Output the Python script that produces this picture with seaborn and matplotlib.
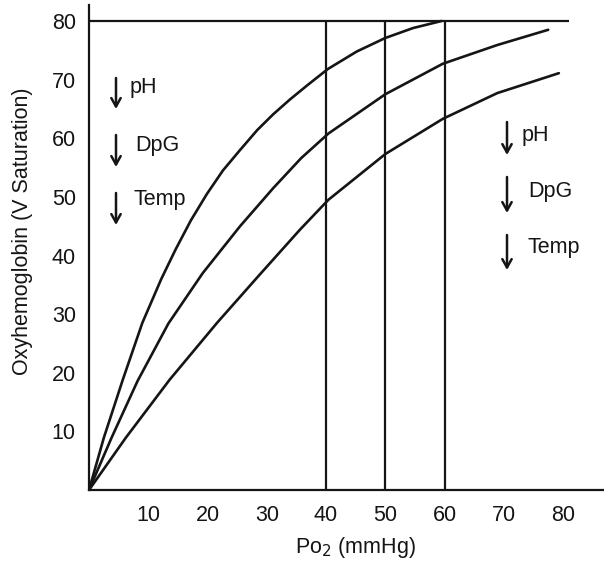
import matplotlib
matplotlib.use("Agg")
import matplotlib.pyplot as plt
import pandas as pd
import seaborn as sns

# Oxyhemoglobin dissociation curves (PO2 in mmHg, saturation)
po2_high_affinity = [0, 2.5, 5.7, 9.0, 12.2, 14.6, 17.2, 19.9, 22.6, 25.5, 28.4,
                     31.1, 33.9, 36.8, 40.3, 45.2, 50.0, 54.7, 59.5]
sat_high_affinity = [0, 8.9, 18.8, 28.5, 36.0, 41.0, 46.0, 50.5, 54.5, 58.0, 61.4,
                     64.1, 66.6, 69.0, 71.8, 74.8, 77.1, 78.8, 80.0]

po2_normal = [0, 3.8, 8.2, 13.4, 19.2, 25.5, 31.1, 35.8, 40.4, 50.0, 59.7, 68.9, 77.5]
sat_normal = [0, 8.9, 18.6, 28.4, 37.0, 45.0, 51.5, 56.6, 60.8, 67.5, 72.7, 75.9, 78.5]

po2_low_affinity = [0, 6.2, 13.6, 21.6, 28.6, 35.6, 40.4, 50.0, 59.7, 68.9, 79.3]
sat_low_affinity = [0, 8.9, 18.8, 28.5, 36.5, 44.4, 49.5, 57.3, 63.3, 67.7, 71.1]

# Reference lines
max_saturation = 80
max_saturation_end = 81
reference_po2 = [40, 50, 60]

x_ticks = [10, 20, 30, 40, 50, 60, 70, 80]
y_ticks = [10, 20, 30, 40, 50, 60, 70, 80]
factor_labels = ["pH", "DpG", "Temp"]

curves = pd.concat([
    pd.DataFrame({"po2": po2_high_affinity, "sat": sat_high_affinity, "curve": "high"}),
    pd.DataFrame({"po2": po2_normal, "sat": sat_normal, "curve": "normal"}),
    pd.DataFrame({"po2": po2_low_affinity, "sat": sat_low_affinity, "curve": "low"}),
], ignore_index=True)

sns.set_theme(style="white")
plt.rcParams["font.family"] = ["Liberation Sans", "DejaVu Sans"]

ink = "#151515"
W, H = 604, 564
fig = plt.figure(figsize=(W / 100, H / 100), dpi=100)
# axes corner at (89, 490) px, top at 5 px, running to the right edge
ax = fig.add_axes([89 / W, (H - 490) / H, (W - 89) / W, (490 - 5) / H])

sns.lineplot(data=curves, x="po2", y="sat", units="curve", estimator=None,
             sort=False, color=ink, linewidth=1.9, ax=ax, legend=False)
for line in ax.lines:
    line.set_solid_joinstyle("round")
    line.set_solid_capstyle("round")

ax.hlines(max_saturation, 0, max_saturation_end, color=ink, linewidth=1.6)
ax.vlines(reference_po2, 0, max_saturation, color=ink, linewidth=1.6)

ax.set_xlim(0, (W - 89) / 5.925)
ax.set_ylim(0, (490 - 5) / 5.8625)

sns.despine(ax=ax)
for side in ("left", "bottom"):
    ax.spines[side].set_color(ink)
    ax.spines[side].set_linewidth(1.6)

ax.set_xticks(x_ticks)
ax.set_yticks(y_ticks)
ax.tick_params(axis="both", direction="out", color=ink, width=1.5,
               labelsize=15.5, labelcolor=ink)
ax.tick_params(axis="x", length=7.5, pad=3)
ax.tick_params(axis="y", length=8.5, pad=1)

ax.set_xlabel("Po$_2$ (mmHg)", fontsize=15.5, color=ink)
ax.set_ylabel("Oxyhemoglobin (V Saturation)", fontsize=15.5, color=ink)
ax.xaxis.set_label_coords((355 - 89) / (W - 89), (490 - 535) / 485)
ax.yaxis.set_label_coords((33 - 89) / (W - 89), (490 - 231) / 485)

# Arrow + factor annotations (pixel positions converted to axes fraction)
def px(x, y):
    return ((x - 89) / (W - 89), (490 - y) / 485)

left_group = [(116, 78, 109, 130, 88), (116, 135, 167, 135, 146), (116, 193, 225, 133, 200)]
right_group = [(507, 122, 155, 522, 135), (507, 177, 213, 528, 192), (507, 235, 270, 528, 247)]
for group in (left_group, right_group):
    for label, (ax_x, y0, y1, tx, ty) in zip(factor_labels, group):
        ax.annotate("", xy=px(ax_x, y1), xytext=px(ax_x, y0),
                    xycoords="axes fraction", textcoords="axes fraction",
                    arrowprops=dict(arrowstyle="->,head_length=0.5,head_width=0.28",
                                    color=ink, lw=1.8, shrinkA=0, shrinkB=0))
        ax.text(*px(tx, ty), label, transform=ax.transAxes, fontsize=15.5,
                color=ink, ha="left", va="center")

fig.savefig("out.png", dpi=100, facecolor="white")
